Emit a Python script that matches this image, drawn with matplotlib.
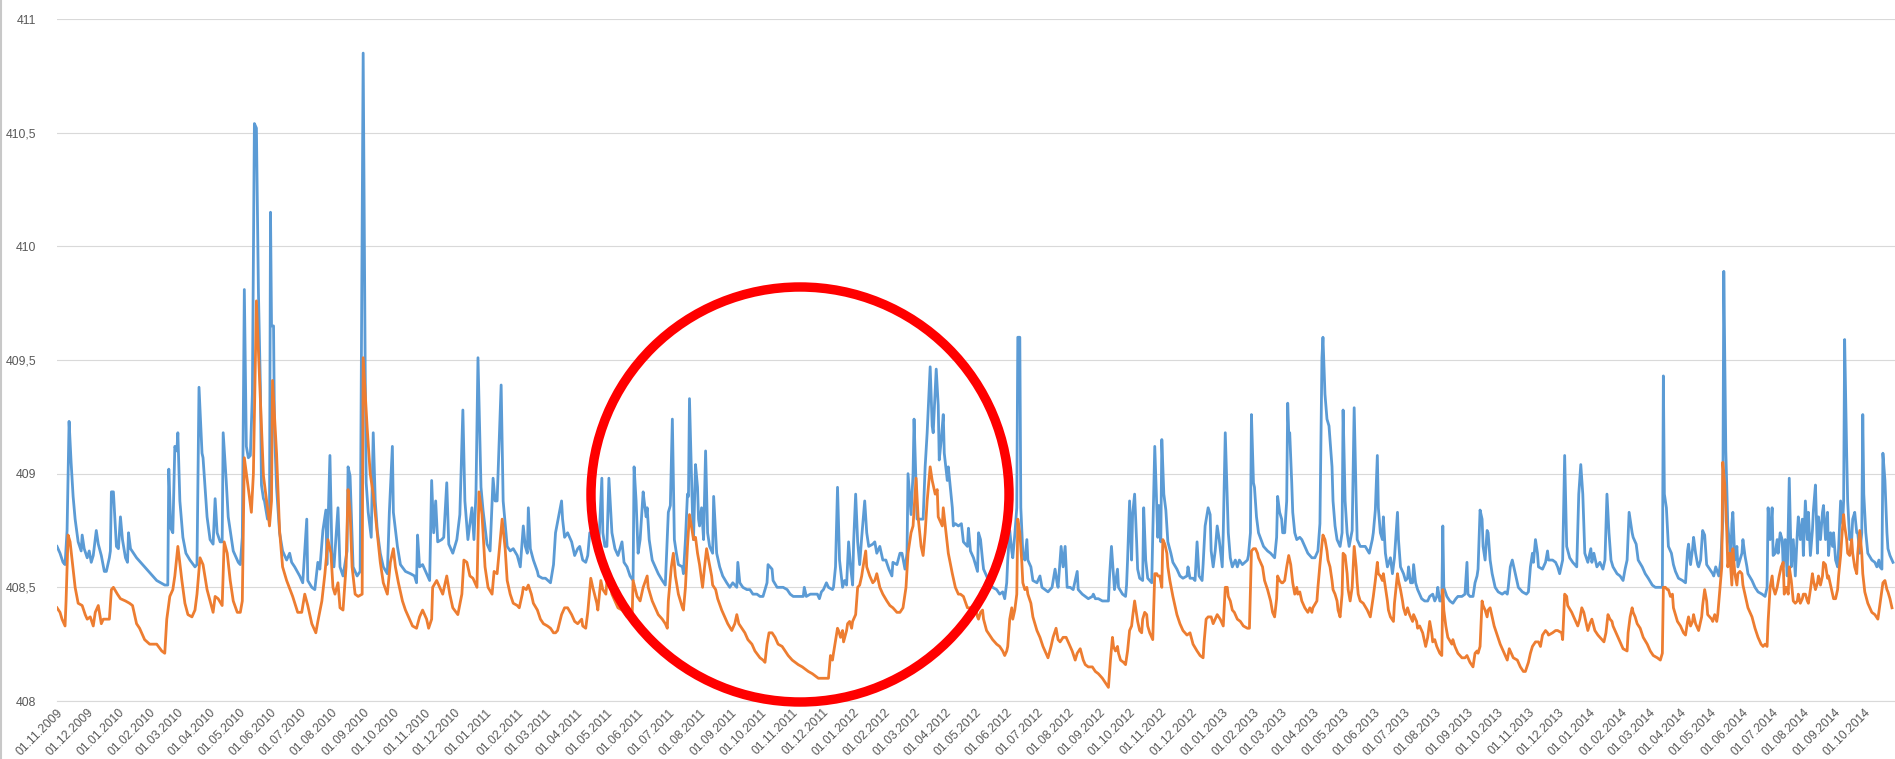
import numpy as np
import matplotlib
matplotlib.use("Agg")
import matplotlib.pyplot as plt
import matplotlib.dates as mdates
from matplotlib.patches import Ellipse
from matplotlib.lines import Line2D
import pandas as pd

START = "2009-11-01"

# Blue series: day offset from START, level
BLUE_DAY = [
    0, 3, 6, 8, 10, 12, 14, 16, 18, 21,
    24, 25, 27, 30, 32, 34, 36, 39, 41, 44,
    47, 49, 52, 53, 54, 56, 59, 61, 63, 65,
    68, 70, 71, 73, 79, 89, 99, 107, 110, 111,
    113, 115, 117, 119, 120, 122, 125, 128, 132, 137,
    139, 141, 144, 145, 149, 152, 155, 157, 159, 162,
    164, 165, 168, 170, 175, 180, 182, 184, 186, 188,
    190, 192, 194, 196, 198, 200, 202, 203, 205, 206,
    209, 211, 212, 213, 215, 216, 218, 221, 224, 228,
    231, 233, 236, 241, 244, 248, 249, 253, 256, 259,
    261, 264, 267, 268, 271, 273, 275, 279, 281, 284,
    288, 289, 291, 294, 298, 301, 304, 306, 307, 309,
    312, 314, 316, 318, 321, 324, 328, 330, 333, 334,
    338, 341, 346, 351, 355, 357, 358, 360, 363, 367,
    370, 372, 374, 376, 378, 382, 384, 387, 389, 393,
    397, 400, 403, 405, 408, 412, 414, 416, 418, 421,
    423, 427, 430, 433, 435, 437, 441, 443, 447, 450,
    453, 457, 460, 463, 465, 467, 468, 470, 473, 477,
    478, 482, 485, 490, 493, 495, 501, 502, 504, 507,
    511, 514, 517, 519, 522, 525, 527, 529, 532, 536,
    538, 541, 542, 544, 546, 548, 551, 554, 557, 561,
    563, 566, 569, 572, 573, 575, 577, 579, 582, 583,
    585, 586, 588, 591, 594, 597, 601, 604, 607, 609,
    611, 613, 615, 617, 621, 622, 624, 626, 627, 628,
    631, 632, 634, 636, 637, 638, 640, 642, 644, 646,
    648, 651, 652, 655, 658, 661, 665, 668, 671, 675,
    676, 678, 681, 685, 688, 691, 695, 698, 701, 705,
    706, 708, 710, 711, 715, 718, 721, 725, 728, 731,
    735, 738, 741, 742, 744, 748, 751, 755, 757, 759,
    761, 764, 766, 770, 771, 773, 775, 777, 780, 782,
    784, 786, 788, 790, 791, 793, 795, 797, 799, 802,
    804, 806, 810, 812, 814, 817, 820, 823, 826, 829,
    830, 834, 837, 839, 842, 844, 845, 848, 850, 851,
    854, 856, 860, 862, 864, 867, 869, 870, 873, 875,
    876, 878, 880, 881, 884, 885, 887, 889, 890, 892,
    895, 898, 900, 902, 904, 905, 907, 910, 912, 914,
    915, 917, 919, 920, 923, 926, 929, 933, 936, 939,
    941, 943, 944, 946, 948, 949, 951, 953, 954, 956,
    957, 959, 961, 963, 964, 967, 969, 973, 976, 978,
    981, 984, 988, 991, 993, 994, 997, 999, 1001, 1003,
    1006, 1009, 1013, 1014, 1018, 1021, 1024, 1028, 1029, 1031,
    1034, 1038, 1041, 1044, 1045, 1047, 1049, 1050, 1053, 1054,
    1058, 1061, 1062, 1063, 1065, 1067, 1068, 1070, 1072, 1073,
    1075, 1078, 1079, 1081, 1083, 1087, 1088, 1090, 1092, 1093,
    1094, 1096, 1097, 1099, 1101, 1103, 1106, 1108, 1112, 1115,
    1118, 1122, 1123, 1125, 1128, 1130, 1132, 1134, 1137, 1138,
    1140, 1143, 1145, 1146, 1148, 1150, 1152, 1154, 1157, 1158,
    1160, 1162, 1163, 1165, 1167, 1170, 1172, 1174, 1177, 1182,
    1183, 1185, 1186, 1188, 1189, 1191, 1193, 1198, 1202, 1205,
    1207, 1209, 1211, 1212, 1214, 1216, 1217, 1219, 1221, 1222,
    1223, 1224, 1226, 1227, 1229, 1231, 1234, 1236, 1239, 1242,
    1246, 1249, 1252, 1254, 1256, 1257, 1259, 1261, 1263, 1266,
    1267, 1269, 1271, 1274, 1276, 1277, 1279, 1281, 1283, 1286,
    1288, 1290, 1291, 1294, 1299, 1303, 1306, 1307, 1309, 1311,
    1312, 1314, 1316, 1317, 1319, 1321, 1324, 1326, 1328, 1331,
    1332, 1334, 1337, 1339, 1341, 1342, 1344, 1346, 1347, 1349,
    1351, 1355, 1358, 1361, 1363, 1366, 1368, 1370, 1371, 1373,
    1375, 1376, 1377, 1380, 1383, 1386, 1389, 1391, 1395, 1398,
    1400, 1401, 1403, 1406, 1408, 1410, 1411, 1413, 1415, 1416,
    1418, 1420, 1421, 1423, 1425, 1428, 1431, 1435, 1438, 1440,
    1441, 1443, 1445, 1448, 1451, 1455, 1459, 1461, 1463, 1465,
    1466, 1468, 1470, 1471, 1475, 1478, 1480, 1481, 1485, 1488,
    1490, 1492, 1495, 1497, 1499, 1502, 1505, 1509, 1511, 1513,
    1515, 1517, 1520, 1523, 1524, 1526, 1529, 1532, 1535, 1537,
    1539, 1541, 1543, 1545, 1549, 1552, 1555, 1557, 1559, 1561,
    1564, 1565, 1568, 1570, 1574, 1577, 1580, 1584, 1587, 1590,
    1594, 1595, 1596, 1598, 1600, 1603, 1605, 1607, 1610, 1614,
    1617, 1619, 1620, 1622, 1624, 1625, 1627, 1629, 1630, 1632,
    1634, 1636, 1638, 1641, 1644, 1645, 1647, 1650, 1652, 1654,
    1655, 1657, 1659, 1661, 1662, 1663, 1664, 1666, 1668, 1669,
    1671, 1673, 1674, 1676, 1678, 1679, 1683, 1686, 1689, 1693,
    1696, 1698, 1699, 1701, 1703, 1704, 1706, 1708, 1709, 1711,
    1713, 1714, 1716, 1718, 1720, 1722, 1724, 1726, 1728, 1729,
    1731, 1733, 1734, 1736, 1738, 1739, 1741, 1743, 1744, 1746,
    1748, 1749, 1751, 1753, 1754, 1756, 1758, 1759, 1761, 1763,
    1764, 1766, 1768, 1769, 1771, 1773, 1774, 1775, 1777, 1778,
    1780, 1782, 1783, 1785, 1787, 1788, 1790, 1792, 1793, 1794,
    1796, 1798, 1802, 1805, 1807, 1809, 1810, 1812, 1813, 1815,
    1817, 1818, 1820, 1823,
]
BLUE_LEVEL = [
    408.68, 408.65, 408.61, 408.60, 408.75, 409.23, 409.05, 408.90, 408.80, 408.70,
    408.66, 408.73, 408.67, 408.63, 408.66, 408.61, 408.64, 408.75, 408.69, 408.64,
    408.57, 408.57, 408.63, 408.66, 408.92, 408.92, 408.68, 408.67, 408.81, 408.71,
    408.63, 408.61, 408.74, 408.67, 408.63, 408.58, 408.53, 408.51, 408.51, 409.02,
    408.76, 408.74, 409.12, 409.10, 409.18, 408.88, 408.72, 408.65, 408.62, 408.59,
    408.60, 409.38, 409.09, 409.07, 408.81, 408.71, 408.69, 408.89, 408.74, 408.70,
    408.70, 409.18, 408.97, 408.81, 408.66, 408.61, 408.60, 408.72, 409.81, 409.12,
    409.07, 409.08, 409.35, 410.54, 410.52, 409.80, 409.37, 408.95, 408.89, 408.88,
    408.80, 408.82, 410.15, 409.65, 409.65, 409.18, 408.94, 408.74, 408.66, 408.62,
    408.65, 408.61, 408.59, 408.55, 408.52, 408.80, 408.53, 408.50, 408.49, 408.61,
    408.58, 408.75, 408.84, 408.60, 409.08, 408.65, 408.59, 408.85, 408.59, 408.55,
    408.66, 409.03, 408.99, 408.59, 408.55, 408.57, 410.85, 409.47, 408.96, 408.83,
    408.72, 409.18, 408.88, 408.75, 408.65, 408.59, 408.56, 408.83, 409.12, 408.83,
    408.68, 408.60, 408.57, 408.56, 408.55, 408.52, 408.73, 408.59, 408.60, 408.56,
    408.53, 408.97, 408.74, 408.88, 408.70, 408.71, 408.72, 408.96, 408.69, 408.65,
    408.71, 408.82, 409.28, 408.88, 408.71, 408.85, 408.71, 408.91, 409.51, 408.94,
    408.84, 408.69, 408.66, 408.98, 408.88, 408.88, 409.39, 408.88, 408.68, 408.66,
    408.67, 408.64, 408.59, 408.77, 408.68, 408.65, 408.85, 408.67, 408.62, 408.57,
    408.55, 408.54, 408.54, 408.52, 408.60, 408.74, 408.88, 408.80, 408.72, 408.74,
    408.70, 408.64, 408.67, 408.68, 408.62, 408.61, 408.64, 408.74, 408.72, 408.70,
    408.69, 408.98, 408.74, 408.68, 408.68, 408.98, 408.74, 408.67, 408.64, 408.70,
    408.61, 408.59, 408.55, 408.53, 409.03, 408.88, 408.65, 408.71, 408.92, 408.88,
    408.81, 408.85, 408.71, 408.62, 408.59, 408.56, 408.53, 408.51, 408.83, 408.86,
    409.24, 408.71, 408.65, 408.60, 408.59, 408.56, 408.71, 408.91, 408.90, 409.33,
    408.82, 408.71, 409.04, 408.94, 408.80, 408.77, 408.85, 408.71, 409.10, 408.74,
    408.68, 408.65, 408.90, 408.65, 408.59, 408.55, 408.52, 408.50, 408.52, 408.50,
    408.61, 408.52, 408.50, 408.49, 408.49, 408.47, 408.47, 408.46, 408.46, 408.52,
    408.60, 408.59, 408.58, 408.53, 408.50, 408.50, 408.50, 408.49, 408.47, 408.46,
    408.46, 408.46, 408.46, 408.50, 408.46, 408.47, 408.47, 408.47, 408.45, 408.48,
    408.49, 408.52, 408.50, 408.49, 408.50, 408.59, 408.94, 408.62, 408.50, 408.53,
    408.51, 408.70, 408.59, 408.51, 408.70, 408.91, 408.70, 408.60, 408.72, 408.88,
    408.74, 408.68, 408.69, 408.70, 408.65, 408.68, 408.62, 408.62, 408.58, 408.55,
    408.61, 408.60, 408.65, 408.65, 408.58, 408.65, 409.00, 408.82, 409.00, 409.24,
    408.80, 408.80, 408.80, 409.03, 409.18, 409.47, 409.21, 409.18, 409.46, 409.30,
    409.06, 409.15, 409.26, 409.09, 408.97, 409.03, 408.94, 408.85, 408.77, 408.78,
    408.77, 408.78, 408.70, 408.69, 408.68, 408.76, 408.66, 408.63, 408.60, 408.57,
    408.74, 408.71, 408.62, 408.58, 408.55, 408.52, 408.50, 408.49, 408.47, 408.48,
    408.45, 408.52, 408.62, 408.75, 408.66, 408.63, 408.73, 408.85, 409.60, 409.60,
    408.85, 408.65, 408.62, 408.71, 408.62, 408.59, 408.53, 408.52, 408.55, 408.50,
    408.49, 408.48, 408.50, 408.58, 408.52, 408.50, 408.68, 408.59, 408.68, 408.50,
    408.50, 408.49, 408.57, 408.49, 408.47, 408.46, 408.45, 408.46, 408.47, 408.45,
    408.45, 408.44, 408.44, 408.44, 408.54, 408.68, 408.55, 408.49, 408.58, 408.50,
    408.47, 408.46, 408.51, 408.62, 408.88, 408.62, 408.82, 408.91, 408.70, 408.58,
    408.54, 408.53, 408.85, 408.62, 408.54, 408.52, 408.73, 409.12, 408.85, 408.72,
    408.86, 408.70, 409.15, 408.91, 408.84, 408.70, 408.65, 408.61, 408.58, 408.55,
    408.54, 408.55, 408.59, 408.54, 408.54, 408.53, 408.70, 408.55, 408.53, 408.60,
    408.77, 408.85, 408.82, 408.66, 408.59, 408.66, 408.77, 408.71, 408.59, 408.74,
    409.18, 408.88, 408.74, 408.63, 408.59, 408.62, 408.59, 408.62, 408.60, 408.62,
    408.64, 408.74, 409.26, 408.96, 408.94, 408.81, 408.74, 408.68, 408.66, 408.65,
    408.64, 408.63, 408.72, 408.90, 408.83, 408.80, 408.74, 408.74, 408.88, 409.31,
    409.18, 409.18, 408.96, 408.83, 408.74, 408.71, 408.72, 408.71, 408.68, 408.65,
    408.63, 408.63, 408.66, 408.78, 409.51, 409.60, 409.35, 409.24, 409.21, 409.03,
    408.88, 408.77, 408.71, 408.68, 408.74, 409.28, 408.88, 408.74, 408.68, 408.75,
    409.29, 408.88, 408.71, 408.68, 408.68, 408.65, 408.71, 408.74, 408.84, 409.08,
    408.85, 408.74, 408.71, 408.81, 408.65, 408.59, 408.63, 408.56, 408.63, 408.83,
    408.71, 408.59, 408.56, 408.53, 408.54, 408.59, 408.52, 408.52, 408.60, 408.52,
    408.49, 408.45, 408.44, 408.44, 408.46, 408.47, 408.44, 408.46, 408.50, 408.44,
    408.44, 408.77, 408.50, 408.46, 408.44, 408.43, 408.45, 408.46, 408.46, 408.47,
    408.61, 408.47, 408.46, 408.46, 408.52, 408.55, 408.58, 408.84, 408.80, 408.68,
    408.62, 408.75, 408.74, 408.62, 408.56, 408.50, 408.48, 408.47, 408.48, 408.47,
    408.50, 408.59, 408.62, 408.56, 408.50, 408.48, 408.47, 408.48, 408.59, 408.65,
    408.61, 408.71, 408.65, 408.59, 408.58, 408.61, 408.66, 408.62, 408.62, 408.61,
    408.59, 408.56, 408.62, 409.08, 408.68, 408.63, 408.61, 408.59, 408.91, 409.04,
    408.91, 408.65, 408.61, 408.67, 408.61, 408.65, 408.59, 408.61, 408.58, 408.62,
    408.91, 408.74, 408.62, 408.59, 408.56, 408.55, 408.53, 408.58, 408.62, 408.83,
    408.74, 408.72, 408.69, 408.62, 408.59, 408.56, 408.54, 408.51, 408.50, 408.50,
    408.50, 409.43, 408.91, 408.85, 408.68, 408.65, 408.60, 408.57, 408.54, 408.53,
    408.52, 408.66, 408.69, 408.60, 408.67, 408.72, 408.65, 408.60, 408.59, 408.62,
    408.75, 408.73, 408.60, 408.58, 408.56, 408.55, 408.59, 408.55, 408.62, 408.79,
    409.89, 409.10, 408.77, 408.68, 408.60, 408.78, 408.83, 408.62, 408.68, 408.59,
    408.62, 408.65, 408.71, 408.64, 408.59, 408.56, 408.53, 408.50, 408.48, 408.47,
    408.46, 408.50, 408.85, 408.71, 408.85, 408.64, 408.65, 408.71, 408.65, 408.74,
    408.71, 408.59, 408.71, 408.55, 408.98, 408.59, 408.71, 408.55, 408.74, 408.81,
    408.71, 408.80, 408.64, 408.88, 408.71, 408.83, 408.64, 408.75, 408.84, 408.95,
    408.65, 408.81, 408.71, 408.83, 408.86, 408.71, 408.83, 408.64, 408.74, 408.68,
    408.74, 408.62, 408.59, 408.67, 408.88, 408.78, 408.88, 409.59, 409.09, 408.88,
    408.71, 408.71, 408.80, 408.83, 408.74, 408.74, 408.65, 408.74, 409.26, 408.91,
    408.74, 408.65, 408.62, 408.61, 408.59, 408.62, 408.59, 408.58, 409.09, 408.97,
    408.74, 408.67, 408.64, 408.61,
]

# Orange series: day offset from START, level
ORANGE_DAY = [
    0, 3, 5, 6, 8, 9, 11, 13, 15, 18,
    21, 25, 28, 30, 33, 36, 38, 41, 44, 46,
    50, 52, 54, 56, 60, 63, 68, 72, 75, 79,
    82, 87, 92, 99, 104, 107, 109, 112, 115, 117,
    120, 124, 127, 130, 134, 137, 139, 142, 145, 149,
    152, 155, 157, 160, 164, 166, 169, 172, 175, 179,
    182, 184, 186, 189, 191, 193, 195, 198, 202, 205,
    209, 211, 213, 214, 218, 221, 224, 228, 234, 239,
    243, 246, 249, 253, 257, 259, 263, 266, 269, 272,
    274, 276, 279, 281, 284, 287, 289, 291, 293, 296,
    299, 303, 304, 308, 311, 314, 318, 321, 324, 328,
    331, 334, 336, 339, 343, 346, 349, 353, 357, 360,
    363, 367, 369, 372, 373, 377, 380, 383, 387, 390,
    393, 398, 402, 404, 407, 410, 413, 417, 419, 422,
    425, 428, 432, 434, 437, 442, 445, 447, 450, 453,
    457, 459, 462, 463, 466, 468, 471, 473, 477, 480,
    483, 487, 490, 493, 495, 497, 501, 504, 507, 511,
    514, 517, 521, 522, 525, 527, 530, 532, 536, 537,
    540, 542, 545, 547, 551, 554, 557, 561, 566, 571,
    572, 576, 579, 582, 586, 587, 591, 594, 597, 601,
    604, 606, 607, 610, 612, 614, 617, 621, 622, 624,
    626, 628, 631, 632, 634, 636, 638, 641, 643, 645,
    647, 650, 651, 654, 656, 660, 663, 666, 670, 671,
    673, 675, 677, 680, 683, 686, 690, 693, 698, 701,
    703, 705, 707, 710, 713, 716, 720, 723, 726, 730,
    733, 736, 740, 743, 746, 750, 753, 756, 760, 763,
    766, 768, 770, 771, 775, 776, 778, 780, 781, 784,
    785, 787, 789, 790, 793, 795, 797, 799, 800, 803,
    804, 807, 810, 812, 814, 817, 820, 824, 827, 830,
    834, 837, 840, 843, 845, 848, 850, 853, 855, 858,
    860, 862, 864, 867, 869, 872, 874, 875, 879, 880,
    882, 885, 889, 892, 895, 897, 900, 904, 907, 909,
    912, 914, 915, 917, 919, 920, 923, 926, 929, 933,
    936, 939, 941, 943, 944, 946, 948, 949, 951, 953,
    954, 956, 958, 959, 961, 963, 964, 967, 969, 973,
    976, 979, 982, 984, 987, 989, 992, 994, 996, 999,
    1002, 1004, 1008, 1011, 1013, 1016, 1019, 1021, 1024, 1028,
    1031, 1034, 1038, 1041, 1044, 1046, 1048, 1049, 1051, 1053,
    1054, 1056, 1059, 1061, 1063, 1065, 1067, 1068, 1070, 1072,
    1073, 1075, 1077, 1078, 1080, 1082, 1083, 1085, 1087, 1088,
    1090, 1092, 1093, 1095, 1097, 1098, 1100, 1102, 1103, 1105,
    1108, 1112, 1115, 1118, 1122, 1125, 1128, 1132, 1135, 1138,
    1139, 1141, 1143, 1146, 1148, 1150, 1152, 1155, 1158, 1160,
    1162, 1163, 1165, 1167, 1169, 1172, 1175, 1178, 1182, 1184,
    1186, 1188, 1190, 1192, 1193, 1197, 1199, 1202, 1205, 1207,
    1209, 1211, 1212, 1214, 1216, 1217, 1219, 1221, 1223, 1225,
    1227, 1229, 1231, 1232, 1234, 1236, 1239, 1242, 1244, 1246,
    1247, 1251, 1252, 1254, 1256, 1257, 1259, 1261, 1262, 1264,
    1266, 1267, 1269, 1271, 1272, 1274, 1276, 1277, 1279, 1281,
    1282, 1284, 1286, 1288, 1290, 1291, 1292, 1294, 1297, 1301,
    1304, 1307, 1309, 1311, 1312, 1314, 1316, 1317, 1319, 1321,
    1322, 1324, 1327, 1328, 1331, 1332, 1334, 1336, 1337, 1339,
    1341, 1343, 1346, 1347, 1350, 1351, 1353, 1356, 1359, 1361,
    1363, 1365, 1366, 1368, 1370, 1371, 1373, 1375, 1376, 1377,
    1379, 1381, 1385, 1386, 1388, 1391, 1395, 1398, 1400, 1401,
    1403, 1406, 1408, 1410, 1411, 1413, 1415, 1416, 1418, 1420,
    1421, 1423, 1425, 1427, 1430, 1433, 1436, 1438, 1440, 1442,
    1444, 1446, 1450, 1453, 1456, 1458, 1461, 1463, 1465, 1468,
    1471, 1473, 1475, 1478, 1480, 1481, 1485, 1488, 1490, 1494,
    1495, 1497, 1499, 1500, 1504, 1507, 1510, 1512, 1514, 1516,
    1519, 1520, 1522, 1524, 1527, 1530, 1534, 1536, 1538, 1540,
    1542, 1544, 1545, 1549, 1552, 1555, 1559, 1560, 1562, 1564,
    1565, 1567, 1569, 1572, 1575, 1579, 1582, 1585, 1589, 1592,
    1594, 1595, 1597, 1599, 1600, 1602, 1604, 1605, 1607, 1609,
    1612, 1615, 1617, 1619, 1620, 1622, 1624, 1625, 1627, 1629,
    1630, 1631, 1633, 1634, 1636, 1638, 1639, 1641, 1643, 1644,
    1646, 1648, 1649, 1653, 1654, 1656, 1658, 1659, 1661, 1663,
    1664, 1666, 1668, 1669, 1671, 1673, 1674, 1676, 1679, 1683,
    1686, 1689, 1692, 1694, 1696, 1698, 1699, 1701, 1703, 1704,
    1706, 1708, 1710, 1712, 1714, 1715, 1717, 1719, 1720, 1722,
    1724, 1726, 1728, 1729, 1731, 1733, 1734, 1736, 1738, 1739,
    1741, 1743, 1744, 1746, 1748, 1749, 1751, 1753, 1754, 1756,
    1758, 1759, 1761, 1763, 1764, 1766, 1768, 1769, 1771, 1773,
    1774, 1775, 1777, 1778, 1780, 1782, 1783, 1785, 1787, 1788,
    1790, 1792, 1793, 1795, 1798, 1802, 1805, 1808, 1813, 1815,
    1817, 1818, 1820, 1822,
]
ORANGE_LEVEL = [
    408.41, 408.39, 408.36, 408.35, 408.33, 408.44, 408.73, 408.70, 408.62, 408.50,
    408.43, 408.42, 408.38, 408.36, 408.37, 408.33, 408.39, 408.42, 408.34, 408.36,
    408.36, 408.36, 408.49, 408.50, 408.47, 408.45, 408.44, 408.43, 408.42, 408.34,
    408.32, 408.27, 408.25, 408.25, 408.22, 408.21, 408.36, 408.46, 408.49, 408.55,
    408.68, 408.53, 408.43, 408.38, 408.37, 408.40, 408.47, 408.63, 408.60, 408.49,
    408.44, 408.39, 408.46, 408.45, 408.42, 408.70, 408.65, 408.53, 408.44, 408.39,
    408.39, 408.44, 409.07, 408.97, 408.90, 408.83, 409.00, 409.76, 409.32, 408.99,
    408.85, 408.77, 408.88, 409.41, 409.09, 408.75, 408.59, 408.53, 408.46, 408.39,
    408.39, 408.47, 408.42, 408.34, 408.30, 408.35, 408.44, 408.56, 408.71, 408.65,
    408.50, 408.47, 408.52, 408.41, 408.40, 408.59, 408.93, 408.83, 408.59, 408.47,
    408.46, 408.47, 409.51, 409.20, 409.00, 408.91, 408.74, 408.61, 408.52, 408.47,
    408.61, 408.67, 408.59, 408.52, 408.44, 408.40, 408.37, 408.33, 408.32, 408.37,
    408.40, 408.36, 408.32, 408.36, 408.50, 408.53, 408.50, 408.47, 408.55, 408.47,
    408.41, 408.38, 408.47, 408.62, 408.61, 408.55, 408.54, 408.50, 408.92, 408.82,
    408.59, 408.50, 408.47, 408.57, 408.56, 408.80, 408.67, 408.53, 408.47, 408.43,
    408.42, 408.41, 408.47, 408.50, 408.49, 408.51, 408.47, 408.43, 408.40, 408.36,
    408.34, 408.33, 408.32, 408.30, 408.30, 408.31, 408.38, 408.41, 408.41, 408.38,
    408.35, 408.34, 408.36, 408.33, 408.32, 408.39, 408.54, 408.50, 408.43, 408.40,
    408.53, 408.49, 408.47, 408.58, 408.47, 408.44, 408.41, 408.40, 408.37, 408.36,
    408.53, 408.46, 408.44, 408.50, 408.55, 408.50, 408.44, 408.41, 408.38, 408.36,
    408.34, 408.32, 408.44, 408.59, 408.65, 408.55, 408.47, 408.41, 408.40, 408.50,
    408.68, 408.82, 408.74, 408.71, 408.72, 408.65, 408.60, 408.50, 408.59, 408.67,
    408.62, 408.55, 408.51, 408.49, 408.45, 408.40, 408.37, 408.34, 408.31, 408.32,
    408.34, 408.38, 408.34, 408.32, 408.30, 408.27, 408.25, 408.22, 408.19, 408.18,
    408.17, 408.25, 408.30, 408.30, 408.28, 408.25, 408.24, 408.22, 408.20, 408.18,
    408.17, 408.16, 408.15, 408.14, 408.13, 408.12, 408.11, 408.10, 408.10, 408.10,
    408.10, 408.20, 408.18, 408.21, 408.32, 408.31, 408.28, 408.31, 408.26, 408.31,
    408.34, 408.35, 408.32, 408.35, 408.38, 408.50, 408.51, 408.55, 408.58, 408.66,
    408.59, 408.55, 408.52, 408.53, 408.56, 408.50, 408.47, 408.44, 408.42, 408.41,
    408.39, 408.39, 408.41, 408.50, 408.65, 408.74, 408.77, 408.98, 408.81, 408.68,
    408.64, 408.74, 408.88, 409.03, 408.97, 408.91, 408.93, 408.81, 408.77, 408.85,
    408.77, 408.65, 408.56, 408.50, 408.47, 408.47, 408.46, 408.41, 408.41, 408.39,
    408.41, 408.37, 408.36, 408.39, 408.40, 408.36, 408.31, 408.29, 408.27, 408.25,
    408.24, 408.22, 408.20, 408.22, 408.24, 408.36, 408.41, 408.36, 408.40, 408.47,
    408.80, 408.74, 408.61, 408.52, 408.49, 408.50, 408.47, 408.43, 408.37, 408.31,
    408.28, 408.24, 408.21, 408.19, 408.24, 408.28, 408.32, 408.27, 408.26, 408.28,
    408.28, 408.26, 408.22, 408.18, 408.21, 408.23, 408.18, 408.16, 408.15, 408.15,
    408.13, 408.12, 408.10, 408.08, 408.06, 408.18, 408.28, 408.24, 408.22, 408.24,
    408.21, 408.18, 408.17, 408.16, 408.22, 408.31, 408.33, 408.37, 408.44, 408.38,
    408.35, 408.31, 408.30, 408.36, 408.39, 408.38, 408.33, 408.30, 408.28, 408.27,
    408.56, 408.56, 408.55, 408.55, 408.50, 408.71, 408.69, 408.65, 408.59, 408.53,
    408.46, 408.38, 408.34, 408.31, 408.29, 408.30, 408.25, 408.22, 408.20, 408.19,
    408.26, 408.36, 408.37, 408.37, 408.34, 408.36, 408.38, 408.36, 408.33, 408.50,
    408.50, 408.46, 408.44, 408.40, 408.39, 408.36, 408.35, 408.33, 408.32, 408.32,
    408.66, 408.67, 408.67, 408.65, 408.63, 408.59, 408.53, 408.49, 408.44, 408.39,
    408.37, 408.45, 408.55, 408.53, 408.52, 408.52, 408.53, 408.59, 408.64, 408.60,
    408.52, 408.47, 408.50, 408.47, 408.48, 408.44, 408.41, 408.39, 408.41, 408.39,
    408.41, 408.44, 408.50, 408.60, 408.69, 408.73, 408.71, 408.66, 408.62, 408.59,
    408.53, 408.49, 408.47, 408.44, 408.40, 408.37, 408.47, 408.65, 408.64, 408.56,
    408.49, 408.44, 408.50, 408.68, 408.59, 408.52, 408.47, 408.44, 408.43, 408.40,
    408.37, 408.46, 408.53, 408.61, 408.56, 408.55, 408.53, 408.56, 408.50, 408.44,
    408.40, 408.37, 408.35, 408.43, 408.56, 408.53, 408.49, 408.44, 408.41, 408.38,
    408.41, 408.38, 408.35, 408.38, 408.35, 408.32, 408.33, 408.30, 408.24, 408.28,
    408.35, 408.30, 408.26, 408.27, 408.24, 408.23, 408.21, 408.20, 408.49, 408.40,
    408.33, 408.28, 408.25, 408.27, 408.24, 408.21, 408.19, 408.19, 408.20, 408.19,
    408.17, 408.15, 408.21, 408.22, 408.21, 408.24, 408.44, 408.42, 408.40, 408.37,
    408.40, 408.41, 408.37, 408.33, 408.29, 408.25, 408.22, 408.20, 408.18, 408.23,
    408.21, 408.19, 408.18, 408.15, 408.13, 408.13, 408.17, 408.21, 408.24, 408.26,
    408.26, 408.24, 408.29, 408.31, 408.30, 408.29, 408.30, 408.31, 408.31, 408.30,
    408.27, 408.47, 408.46, 408.42, 408.39, 408.36, 408.33, 408.36, 408.41, 408.39,
    408.33, 408.31, 408.34, 408.36, 408.31, 408.29, 408.27, 408.26, 408.30, 408.38,
    408.36, 408.35, 408.33, 408.29, 408.26, 408.23, 408.22, 408.30, 408.37, 408.41,
    408.39, 408.37, 408.34, 408.32, 408.28, 408.25, 408.22, 408.20, 408.19, 408.18,
    408.21, 408.50, 408.50, 408.49, 408.49, 408.46, 408.47, 408.41, 408.38, 408.35,
    408.33, 408.30, 408.29, 408.35, 408.37, 408.33, 408.35, 408.38, 408.34, 408.32,
    408.31, 408.33, 408.37, 408.42, 408.49, 408.44, 408.38, 408.37, 408.36, 408.35,
    408.38, 408.35, 408.38, 408.59, 409.05, 408.95, 408.74, 408.59, 408.65, 408.51,
    408.67, 408.56, 408.51, 408.56, 408.57, 408.56, 408.51, 408.47, 408.41, 408.37,
    408.32, 408.28, 408.25, 408.24, 408.25, 408.24, 408.35, 408.50, 408.55, 408.50,
    408.47, 408.50, 408.55, 408.59, 408.61, 408.47, 408.50, 408.47, 408.59, 408.53,
    408.44, 408.43, 408.44, 408.47, 408.43, 408.45, 408.47, 408.47, 408.44, 408.43,
    408.49, 408.56, 408.53, 408.49, 408.52, 408.55, 408.51, 408.55, 408.61, 408.60,
    408.54, 408.55, 408.51, 408.47, 408.45, 408.45, 408.49, 408.55, 408.64, 408.77,
    408.82, 408.77, 408.71, 408.65, 408.64, 408.71, 408.65, 408.59, 408.56, 408.65,
    408.75, 408.65, 408.56, 408.48, 408.43, 408.39, 408.38, 408.36, 408.52, 408.53,
    408.49, 408.48, 408.45, 408.41,
]

Y_TICKS = [408, 408.5, 409, 409.5, 410, 410.5, 411]
Y_LABELS = ["408", "408,5", "409", "409,5", "410", "410,5", "411"]
TICK_MONTHS = pd.date_range("2009-11-01", "2014-10-01", freq="MS")
TICK_LABELS = [d.strftime("%d.%m.%Y") for d in TICK_MONTHS]
X_SPAN_DAYS = 1825

BLUE = "#5B9BD5"
ORANGE = "#ED7D31"
GRAY_TXT = "#595959"
GRID = "#D9D9D9"

plt.rcParams["font.family"] = ["Liberation Sans", "DejaVu Sans"]

start = np.datetime64(START)
blue_dates = start + np.array(BLUE_DAY).astype("timedelta64[D]")
orange_dates = start + np.array(ORANGE_DAY).astype("timedelta64[D]")

W, H = 1895, 759
fig = plt.figure(figsize=(W / 100, H / 100), dpi=100)
fig.patch.set_facecolor("white")
ax = fig.add_axes([57 / W, 1 - 701 / H, (W - 57) / W, (701 - 19) / H])

ax.plot(blue_dates, BLUE_LEVEL, color=BLUE, lw=2.0, solid_joinstyle="round")
ax.plot(orange_dates, ORANGE_LEVEL, color=ORANGE, lw=2.0, solid_joinstyle="round")

ax.set_ylim(408, 411)
ax.set_xlim(start, start + np.timedelta64(X_SPAN_DAYS, "D"))
ax.set_yticks(Y_TICKS)
ax.set_yticklabels(Y_LABELS)
tick_pos = mdates.date2num(TICK_MONTHS.to_pydatetime())
ax.set_xticks(tick_pos)
ax.set_xticklabels(TICK_LABELS, rotation=45, ha="right", va="top",
                   rotation_mode="anchor")

ax.grid(axis="y", color=GRID, lw=0.8)
ax.grid(axis="x", visible=False)
ax.set_axisbelow(True)
for s in ["top", "right", "left"]:
    ax.spines[s].set_visible(False)
ax.spines["bottom"].set_color(GRID)
ax.spines["bottom"].set_linewidth(0.8)
ax.tick_params(axis="both", length=0, colors=GRAY_TXT, labelsize=8.8)
ax.tick_params(axis="y", pad=15)
ax.tick_params(axis="x", pad=4)

# red circle annotation
circ = Ellipse((800 / W, 1 - 494.5 / H), 418 / W, 415 / H,
               transform=fig.transFigure, fill=False, edgecolor="#FF0000",
               lw=6.8, zorder=10)
fig.add_artist(circ)

# thin gray border at left edge
fig.add_artist(Line2D([1 / W, 1 / W], [0, 1], transform=fig.transFigure,
                      color="#C8C8C8", lw=1.5))

fig.savefig("out.png", dpi=100)
